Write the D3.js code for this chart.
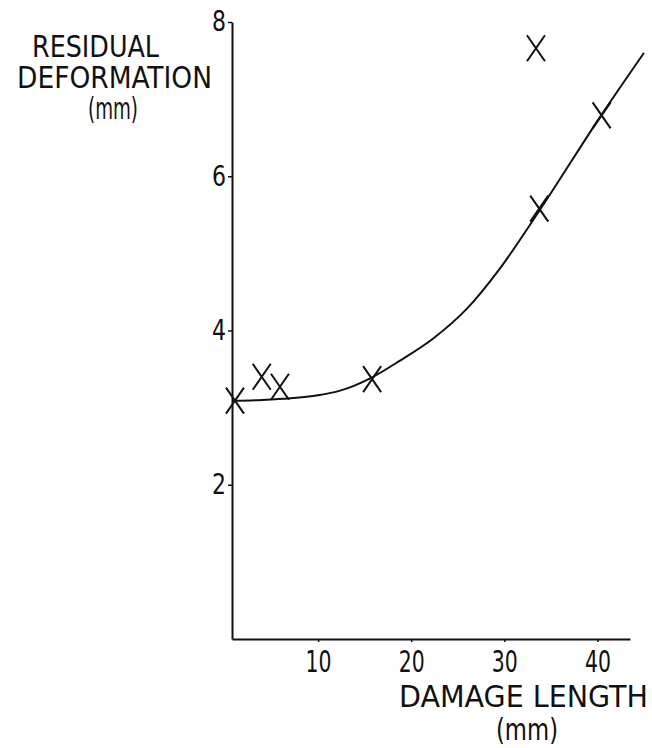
<!DOCTYPE html>
<html>
<head>
<meta charset="utf-8">
<script src="https://cdn.jsdelivr.net/npm/d3@7"></script>
<style>
  html, body { margin: 0; padding: 0; background: #fff; }
  svg text { font-family: "DejaVu Sans Condensed", "DejaVu Sans", sans-serif; fill: #111; }
</style>
</head>
<body>
<div id="chart"></div>
<script>
// measured points (damage length mm, residual deformation mm)
const pointX = [1.07, 3.94, 5.9, 15.8, 33.4, 33.75, 40.45];
const pointY = [3.09, 3.40, 3.27, 3.37, 7.66, 5.58, 6.79];

// hand-drawn fitted curve
const curveX = [0.75, 4.0, 7.0, 10.0, 12.35, 15.6, 18.8, 22.4, 25.96, 29.5, 33.8, 40.4, 45.0];
const curveY = [3.09, 3.10, 3.12, 3.16, 3.22, 3.38, 3.61, 3.90, 4.28, 4.80, 5.56, 6.79, 7.60];

const xTicks = [10, 20, 30, 40];
const yTicks = [2, 4, 6, 8];

const width = 652;
const height = 748;

const svg = d3.select('#chart')
  .append('svg')
  .attr('width', width)
  .attr('height', height);

const x = d3.scaleLinear().domain([0.75, 43.5]).range([232, 630]);
const y = d3.scaleLinear().domain([0, 8]).range([639, 22]);

// axes
const xAxis = svg.append('g')
  .attr('transform', `translate(0,${y(0)})`)
  .call(d3.axisBottom(x).tickValues(xTicks).tickSize(3).tickSizeOuter(0).tickPadding(8));

const yAxis = svg.append('g')
  .attr('transform', `translate(${x(0.75)},0)`)
  .call(d3.axisLeft(y).tickValues(yTicks).tickSize(4).tickSizeOuter(0).tickPadding(2));

[xAxis, yAxis].forEach(g => {
  g.select('.domain').attr('stroke', '#111').attr('stroke-width', 2);
  g.selectAll('.tick line').attr('stroke', '#111').attr('stroke-width', 1.5);
  g.selectAll('.tick text').attr('fill', '#111')
    .attr('lengthAdjust', 'spacingAndGlyphs');
});
xAxis.selectAll('.tick text').style('font-size', '30px').attr('dy', '0.74em').attr('textLength', 26);
yAxis.selectAll('.tick text').style('font-size', '28px').attr('textLength', 14);

// fitted curve
const curveData = curveX.map((d, i) => ({x: d, y: curveY[i]}));
const line = d3.line()
  .x(d => x(d.x))
  .y(d => y(d.y))
  .curve(d3.curveMonotoneX);

svg.append('path')
  .datum(curveData)
  .attr('d', line)
  .attr('fill', 'none')
  .attr('stroke', '#111')
  .attr('stroke-width', 2);

// cross markers
const points = pointX.map((d, i) => ({x: d, y: pointY[i]}));
const hw = 9, hh = 13;
svg.append('g').selectAll('path')
  .data(points)
  .join('path')
  .attr('d', d => {
    const cx = x(d.x), cy = y(d.y);
    return `M${cx - hw},${cy - hh}L${cx + hw},${cy + hh}M${cx + hw},${cy - hh}L${cx - hw},${cy + hh}`;
  })
  .attr('fill', 'none')
  .attr('stroke', '#111')
  .attr('stroke-width', 2);

// labels
const label = (g, tx, ty, len, txt) => g.append('text')
  .attr('x', tx).attr('y', ty)
  .attr('textLength', len)
  .attr('lengthAdjust', 'spacingAndGlyphs')
  .text(txt);

const yLabel = svg.append('g').style('font-size', '30px');
label(yLabel, 32, 57, 127, 'RESIDUAL');
label(yLabel, 17, 88, 195, 'DEFORMATION');
label(yLabel, 88, 119, 50, '(mm)');

const xLabel = svg.append('g').style('font-size', '31px');
label(xLabel, 399, 707, 249, 'DAMAGE LENGTH');
label(xLabel, 496, 740, 62, '(mm)');
</script>
</body>
</html>
